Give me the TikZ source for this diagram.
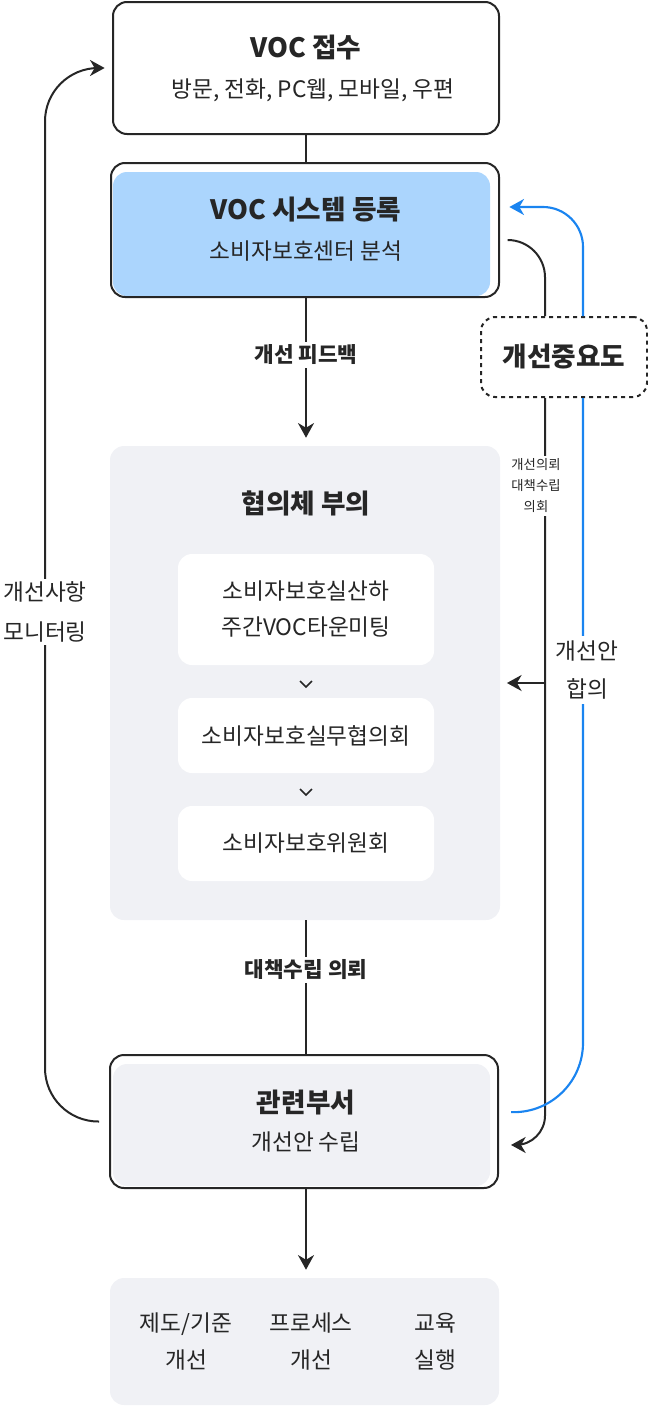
\documentclass[tikz,border=0pt]{standalone}
\usepackage{fontspec}
\setmainfont{Noto Sans CJK KR}
\usetikzlibrary{arrows.meta,positioning}
\definecolor{ink}{HTML}{262626}
\definecolor{skyfill}{HTML}{ABD5FD}
\definecolor{panel}{HTML}{F0F1F5}
\definecolor{agree}{HTML}{1A84F0}
\tikzset{
	box/.style={draw=ink, line width=1.5pt, rounded corners=10.5pt},
	card/.style={fill=white, rounded corners=10.5pt, minimum width=192pt},
	ttl/.style={font=\fontsize{20}{24}\selectfont\bfseries, text=ink},
	sub/.style={font=\fontsize{17}{20}\selectfont, text=ink},
	tag/.style={font=\fontsize{16}{19}\selectfont\bfseries, text=ink, fill=white, inner sep=2pt},
	flow/.style={draw=ink, line width=1.5pt},
	tip/.style={-{Stealth[length=11pt,width=12pt,inset=3.5pt]}}
}
\begin{document}
\begin{tikzpicture}[x=0.75pt, y=-0.75pt]
	% frame of the picture
	\useasboundingbox (0,0) rectangle (648,1406);

	% VOC 접수
	\node[box, fill=white, minimum width=289.5pt, minimum height=99pt] (recv) at (306,68) {};
	\node[ttl] (recvT) at (306,48) {VOC 접수};
	\node[sub] (recvS) at (313,90) {방문, 전화, PC웹, 모바일, 우편};

	% VOC 시스템 등록
	\fill[skyfill, rounded corners=10.5pt] (113,172) rectangle (490,296);
	\node[box, minimum width=291pt, minimum height=100.5pt] (reg) at (305,230) {};
	\node[ttl] (regT) at (306,210) {VOC 시스템 등록};
	\node[sub] (regS) at (306,251) {소비자보호센터 분석};

	% 협의체 부의
	\node[fill=panel, rounded corners=10.5pt, minimum width=292.5pt, minimum height=355.5pt] (board) at (305,683) {};
	\node[ttl] (boardT) at (306,503) {협의체 부의};
	\node[card, minimum height=83.25pt, align=center, font=\fontsize{17}{27}\selectfont, text=ink] (weekly) at (306,609.5) {소비자보호실산하\\주간VOC타운미팅};
	\node[card, minimum height=56.25pt, sub] (work) at (306,735.5) {소비자보호실무협의회};
	\node[card, minimum height=56.25pt, sub] (comm) at (306,843.5) {소비자보호위원회};
	% chevrons between the cards
	\draw[ink, line width=1.2pt] (300,681) -- (306,687) -- (312,681);
	\draw[ink, line width=1.2pt] (300,789) -- (306,795) -- (312,789);

	% 관련부서
	\fill[panel, rounded corners=10.5pt] (113,1064) rectangle (490,1186);
	\node[box, minimum width=291pt, minimum height=99.75pt] (dept) at (304,1121.5) {};
	\node[ttl] (deptT) at (306,1103) {관련부서};
	\node[sub] (deptS) at (306,1142) {개선안 수립};

	% results
	\node[fill=panel, rounded corners=10.5pt, minimum width=291.75pt, minimum height=95.25pt] (result) at (304.5,1341.5) {};
	\node[align=center, font=\fontsize{17}{27.75}\selectfont, text=ink] (rule) at (186,1341.5) {제도/기준\\개선};
	\node[align=center, font=\fontsize{17}{27.75}\selectfont, text=ink] (proc) at (311,1341.5) {프로세스\\개선};
	\node[align=center, font=\fontsize{17}{27.75}\selectfont, text=ink] (edu) at (435,1341.5) {교육\\실행};

	% 개선중요도
	\node[draw=ink, line width=1.5pt, dashed, rounded corners=10.5pt, minimum width=124.5pt, minimum height=60pt, ttl] (prio) at (564,357) {개선중요도};

	% main flow
	\draw[flow] (recv.south) -- (recv.south |- reg.north);
	\draw[flow, tip, shorten >=6pt] (reg.south -| recvT) -- (board.north -| recvT);
	\draw[flow] (board.south -| recvT) -- (dept.north -| recvT);
	\draw[flow, tip, shorten >=6pt] (dept.south -| recvT) -- (result.north -| recvT);

	% monitoring loop
	\coordinate (mon) at (45,600);
	\draw[flow, tip, rounded corners=40pt] ([xshift=-7.5pt]dept.west) -| (mon) |- ([xshift=-5.5pt]recv.west);

	% priority, request side
	\draw[flow, rounded corners=28pt] ([xshift=7pt,yshift=-7.5pt]reg.east) -| ([xshift=-14.25pt]prio.north);
	\draw[flow, tip, rounded corners=22pt] ([xshift=-14.25pt]prio.south) |- ([xshift=9pt,yshift=-17.6pt]dept.east);
	\coordinate (fork) at (545,683);
	\draw[flow, tip] (fork) -- ([xshift=5pt]board.east);

	% priority, agreement side
	\draw[draw=agree, line width=1.6pt, rounded corners=52pt] ([xshift=9pt,yshift=7pt]dept.east) -| ([xshift=14.25pt]prio.south);
	\draw[draw=agree, line width=1.6pt, tip, rounded corners=30pt] ([xshift=14.25pt]prio.north) |- ([xshift=7pt,yshift=17.25pt]reg.east);

	% labels on the lines
	\node[tag] (fbL) at (306,355) {개선 피드백};
	\node[tag] (reqL) at (306,970) {대책수립 의뢰};
	\node[fill=white, align=center, font=\fontsize{17}{30}\selectfont, text=ink, inner sep=2pt] (monL) at (45,612) {개선사항\\모니터링};
	\node[fill=white, align=center, font=\fontsize{10}{15.75}\selectfont, text=ink, inner sep=2pt] (askL) at (536,486) {개선의뢰\\대책수립\\의회};
	\node[fill=white, align=center, font=\fontsize{17}{29}\selectfont, text=ink, inner sep=3pt] (agL) at (587,670) {개선안\\합의};
\end{tikzpicture}
\end{document}
